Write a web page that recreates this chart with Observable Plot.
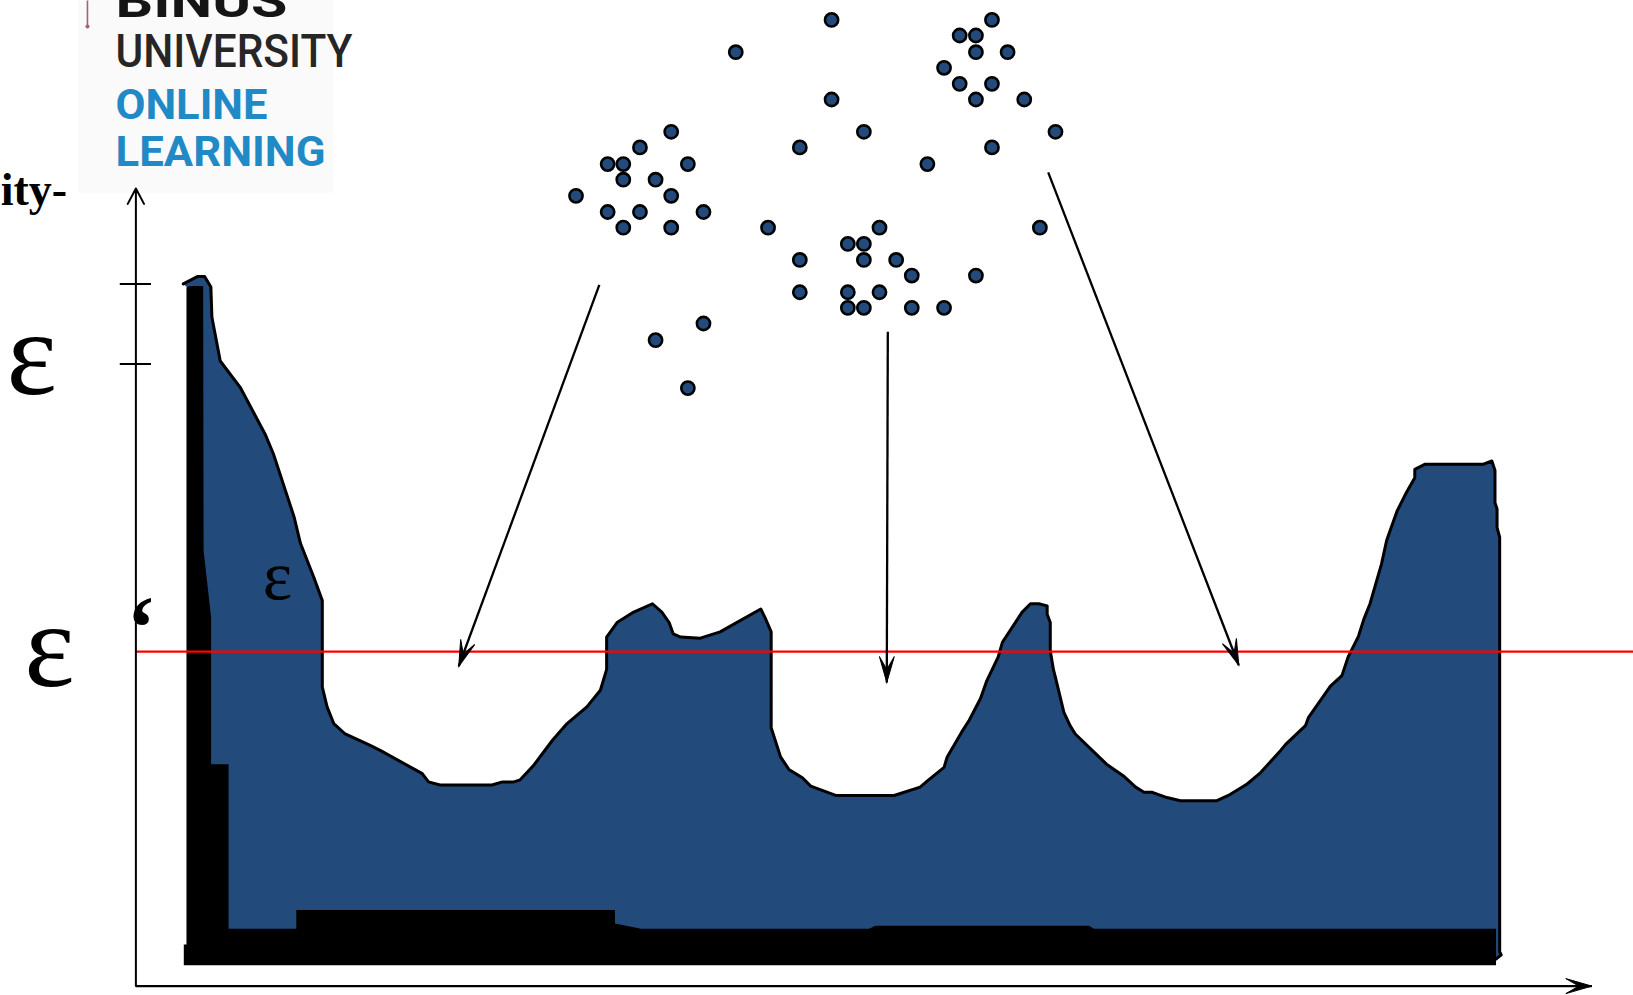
<!DOCTYPE html>
<html><head><meta charset="utf-8">
<script src="https://cdn.jsdelivr.net/npm/d3@7"></script>
<script src="https://cdn.jsdelivr.net/npm/@observablehq/plot@0.6"></script>
<style>html,body{margin:0;padding:0;background:#fff;} svg{display:block}</style>
</head><body><div id="chart"></div>
<script>
// Reachability plot (OPTICS): x = point order, y = reachability distance
const profileOrder = [45.5,59,66,72,73,81,100,124,132,152,158,171,179,179,179,183.6,190,201,225,235,275,281,292,342,352,363,369,382,400,414,433,446,452,452,462,478,496,505,512,516,523,542,561,600,604,610,610,619,627,640,648,672,728,753,760,776,779,793,800,811,817,828,832,851,859,867,875,875,878,878,881,883,891,897,902,932,948,960,968,976,990,1003,1038,1049,1067,1080,1099,1104,1123,1126,1147,1158,1164,1174,1179,1185,1196,1201,1211,1219,1228,1228,1238,1294,1302,1305,1305,1307,1307,1309.5,1309.5,1311,1306,50,50];
const profileReach = [674,681,681,671,642,600,575,530,511,450,425,392,370,357,287,268,252,242,231,226,204,196,193,193,196,196,198,212,236,252,268,284,304,335,349,359,367,359,349,338,335,334,340,362,354,340,248,220,208,200,192,183,183,191,197,210,220,244,255,276,293,316,330,359,367,367,365,357,349,322,304,296,263,250,242,213,202,191,186,186,181,178,178,183,194,205,226,232,250,258,288,298,316,336,352,367,405,428,456,472,488,496,501,501,504,495,464,458,440,431,33,30,26,26,670];

// black base of the plot (unreachable / lowest values)
const baseOrder = [50.8,64.6,65,72.2,72.2,89,89,154,154,460,460,485,704,710,915,920,1306,1306,46,46,50.8];
const baseReach = [672,672,418,354,213,213,55,55,73,73,60,55,55,58,58,55,55,20,20,40,40];

// 2-D sample points (drawn in the same frame above the plot)
const pointX = [422.6,453,468,484,514,530,468,499,514,453,484,545,468,514,545,499,530,
  576,668,668,699,637.5,760,607,714,683.6,699,637.5,699,730,745,806.6,637.5,683.6,714,683.6,699,745,776,868,
  822,791,806.6,806.6,837,776,791,822,806.6,853,883,822];
const pointY = [758.5,789,789,805,820,789,774,774,758.5,743,743,743,728,728,636,620,574,
  896.4,927.4,851,820,805,789,728,728,712.4,712.4,697,697,697,682,682,666,666,666,651,651,651,651,728,
  927.4,912.4,912.4,896.4,896.4,881.4,866,866,851,851,820,805];

// arrows from clusters to valleys
const arrowX1 = [445, 722, 876];
const arrowY1 = [673, 628, 781];
const arrowX2 = [310, 721, 1059];
const arrowY2 = [307, 291.5, 308];

const epsTicks = [674, 597];      // ε marks on the reachability axis
const epsPrime = 321;              // ε' threshold (red line)
const axisXEnd = 1398, axisYEnd = 765.5, xMax = 1438;

const epsLabelX = [-100, -83, 136];
const epsLabelY = [568, 288.4, 372];
const epsLabelSize = [120, 120, 70];

const logoLines = ["BINUS", "UNIVERSITY", "ONLINE", "LEARNING"];
const logoY = [930.5, 881.7, 832.7, 787.6];
const logoColor = ["#151515", "#262626", "#1f8ac6", "#1f8ac6"];
const logoWeight = [700, 500, 700, 700];
const logoSize = [46, 47, 42, 42];
const logoWidth = [172, 237, 152, 210];

const profile = profileOrder.map((x, i) => ({x, y: profileReach[i]}));
const base = baseOrder.map((x, i) => ({x, y: baseReach[i]}));
const points = pointX.map((x, i) => ({x, y: pointY[i]}));
const arrows = arrowX1.map((x1, i) => ({x1, y1: arrowY1[i], x2: arrowX2[i], y2: arrowY2[i]}));
const heads = [...arrows, {x1: 0, y1: 0, x2: axisXEnd, y2: 0}];
const epsLabels = epsLabelX.map((x, i) => ({x, y: epsLabelY[i], s: epsLabelSize[i]}));
const logo = logoLines.map((t, i) => ({t, y: logoY[i], c: logoColor[i], w: logoWeight[i], s: logoSize[i]}));

const arrowHead = {
  draw(context) {
    const L = 26, w = 7.5, n = 13;
    context.moveTo(0, 0);
    context.lineTo(w, L);
    context.lineTo(0, n);
    context.lineTo(-w, L);
    context.closePath();
  }
};

const blue = "#224A7B";
const chart = Plot.plot({
  width: 1633, height: 995, margin: 0,
  x: {domain: [-130, 1438], axis: null},
  y: {domain: [-9, 946], axis: null},
  style: {background: "white", overflow: "hidden"},
  marks: [
    Plot.rect([{x1: -55, x2: 190, y1: 761, y2: 960}], {x1: "x1", x2: "x2", y1: "y1", y2: "y2", fill: "#fafafa"}),
    Plot.link([{x: -46.5, y1: 946, y2: 921}], {x1: "x", x2: "x", y1: "y1", y2: "y2", stroke: "#a86070", strokeWidth: 1.6}),
    Plot.dot([{x: -46.5, y: 921}], {x: "x", y: "y", r: 2, fill: "#a86070"}),
    ...logo.map(d => Plot.text([d], {x: -19.6, y: "y", text: "t", textAnchor: "start", lineAnchor: "bottom",
      fill: d.c, fontWeight: d.w, fontSize: d.s, fontFamily: "Roboto"})),
    Plot.text(["ity-"], {x: -66, y: 750, text: d => d, textAnchor: "end", lineAnchor: "bottom",
      fontFamily: "Liberation Serif", fontWeight: "bold", fontSize: 46, fill: "black"}),
    Plot.line(profile, {x: "x", y: "y", fill: blue, stroke: "black", strokeWidth: 3, strokeLinejoin: "round"}),
    Plot.line(base, {x: "x", y: "y", fill: "black", stroke: "none"}),
    Plot.ruleY([epsPrime], {x1: 0, x2: xMax, stroke: "#ff0000", strokeWidth: 2.2}),
    Plot.ruleY(epsTicks, {x1: -15, x2: 15, stroke: "black", strokeWidth: 2}),
    Plot.link([{x1: 0, x2: axisXEnd, y: 0}], {x1: "x1", x2: "x2", y1: "y", y2: "y", stroke: "black", strokeWidth: 2.4}),
    Plot.arrow([{x: 0, y1: 0, y2: axisYEnd}], {x1: "x", x2: "x", y1: "y1", y2: "y2", stroke: "black", strokeWidth: 2, headLength: 13, headAngle: 56}),
    Plot.link(arrows, {x1: "x1", y1: "y1", x2: "x2", y2: "y2", stroke: "black", strokeWidth: 2.3}),
    Plot.dot(heads, {x: "x2", y: "y2", symbol: arrowHead, r: 6,
      rotate: d => Math.atan2(d.x2 - d.x1, d.y2 - d.y1) * 180 / Math.PI,
      fill: "black", stroke: "black", strokeWidth: 1}),
    Plot.dot(points, {x: "x", y: "y", r: 6.6, fill: blue, stroke: "black", strokeWidth: 2.6}),
    ...epsLabels.map(d => Plot.text([d], {x: "x", y: "y", text: () => "ε", lineAnchor: "bottom",
      fontFamily: "Liberation Serif", fontSize: d.s, fill: "black"})),
    Plot.text(["‘"], {x: 5, y: 376, text: d => d, lineAnchor: "top", fontFamily: "Liberation Serif",
      fontWeight: "bold", fontSize: 88, fill: "black"})
  ]
});
d3.select(chart).selectAll("text").each(function () {
  const i = logoLines.indexOf(this.textContent);
  if (i >= 0) { this.setAttribute("textLength", logoWidth[i]); this.setAttribute("lengthAdjust", "spacingAndGlyphs"); }
});
document.getElementById("chart").append(chart);
</script>
</body></html>
